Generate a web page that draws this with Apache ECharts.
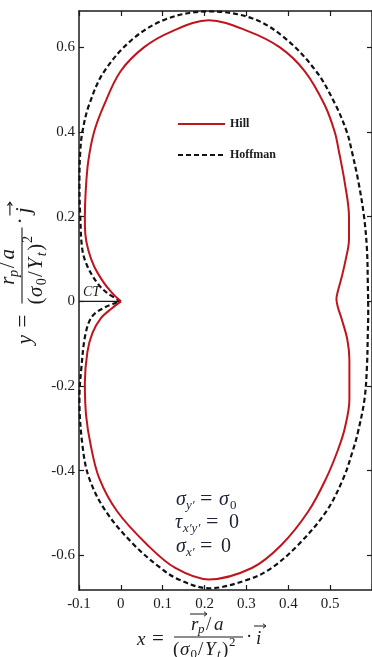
<!DOCTYPE html>
<html>
<head>
<meta charset="utf-8">
<script src="https://cdn.jsdelivr.net/npm/echarts@6/dist/echarts.min.js"></script>
<style>
  html, body { margin: 0; padding: 0; background: #fff; }
  #chart { width: 372px; height: 657px; }
</style>
</head>
<body>
<div id="chart"></div>
<script>
// Plastic zone boundary around the crack tip, normalised coordinates
const hill = [
  [0.000, 0.000], [-0.021, 0.020], [-0.040, 0.043], [-0.064, 0.083], [-0.078, 0.122],
  [-0.085, 0.160], [-0.086, 0.200], [-0.084, 0.260], [-0.078, 0.330], [-0.064, 0.400],
  [-0.040, 0.464], [-0.001, 0.543], [0.055, 0.600], [0.122, 0.638], [0.210, 0.664],
  [0.305, 0.638], [0.380, 0.600], [0.440, 0.543], [0.487, 0.464], [0.511, 0.400],
  [0.521, 0.354], [0.535, 0.280], [0.545, 0.200], [0.545, 0.146], [0.537, 0.098],
  [0.527, 0.055], [0.518, 0.022], [0.515, 0.006], [0.518, -0.012], [0.527, -0.040],
  [0.541, -0.090], [0.546, -0.138], [0.546, -0.232], [0.535, -0.300], [0.519, -0.350],
  [0.491, -0.417], [0.448, -0.496], [0.384, -0.575], [0.313, -0.630], [0.210, -0.657],
  [0.130, -0.630], [0.063, -0.575], [-0.009, -0.496], [-0.052, -0.417], [-0.072, -0.340],
  [-0.083, -0.270], [-0.086, -0.193], [-0.080, -0.120], [-0.068, -0.075], [-0.048, -0.040],
  [-0.022, -0.017], [0.000, 0.000]
];
const hoffman = [
  [0.000, 0.000], [-0.033, 0.020], [-0.056, 0.043], [-0.080, 0.083], [-0.092, 0.122],
  [-0.097, 0.200], [-0.099, 0.280], [-0.097, 0.354], [-0.092, 0.400], [-0.076, 0.464],
  [-0.040, 0.543], [0.031, 0.622], [0.114, 0.669], [0.210, 0.685], [0.313, 0.669],
  [0.392, 0.622], [0.467, 0.543], [0.513, 0.464], [0.540, 0.400], [0.552, 0.354],
  [0.568, 0.280], [0.581, 0.200], [0.588, 0.122], [0.590, 0.043], [0.591, -0.030],
  [0.590, -0.075], [0.588, -0.153], [0.582, -0.232], [0.566, -0.311], [0.555, -0.350],
  [0.532, -0.417], [0.491, -0.496], [0.424, -0.575], [0.360, -0.630], [0.305, -0.657],
  [0.210, -0.678], [0.138, -0.657], [0.095, -0.630], [0.031, -0.575], [-0.036, -0.496],
  [-0.076, -0.417], [-0.092, -0.338], [-0.099, -0.232], [-0.094, -0.153], [-0.084, -0.075],
  [-0.068, -0.035], [-0.036, -0.013], [0.000, 0.000]
];
// crack faces ending at the crack tip (CT)
const crack = [[-0.1, 0], [0, 0]];

const seriesNames = ['Hill', 'Hoffman'];
const xTickValues = [-0.1, 0, 0.1, 0.2, 0.3, 0.4, 0.5, 0.6];
const xLabelValues = [-0.1, 0, 0.1, 0.2, 0.3, 0.4, 0.5];
const yTickValues = [-0.6, -0.4, -0.2, 0, 0.2, 0.4, 0.6];

const X_MIN = -0.1, X_MAX = 0.6, Y_MIN = -0.682, Y_MAX = 0.686;

const serif = "'Liberation Serif', 'DejaVu Serif', serif";
const ink = '#1b1b1b';
const mathInk = '#1e2438';

function fmt(v) { return String(Math.round(v * 10) / 10); }

// one piece of formula text, vertically centred on y
function piece(text, x, y, size, italic, color) {
  return {
    type: 'text', x: x, y: y, silent: true,
    style: {
      text: text,
      font: (italic ? 'italic ' : '') + size + 'px ' + serif,
      fill: color || ink,
      align: 'left', textAlign: 'left',
      verticalAlign: 'middle', textVerticalAlign: 'middle'
    }
  };
}
function vecArrow(x1, x2, y) {
  return [
    { type: 'polyline', silent: true, shape: { points: [[x1, y], [x2, y]] }, style: { stroke: ink, lineWidth: 1, fill: null } },
    { type: 'polyline', silent: true, shape: { points: [[x2 - 3, y - 2.2], [x2, y], [x2 - 3, y + 2.2]] }, style: { stroke: ink, lineWidth: 1, fill: null } }
  ];
}
// axis title: v = (r_p/a) / (sigma0/Yt)^2 · e, laid out around the fraction bar centre
function axisTitle(v, e) {
  const c = [];
  c.push(piece(v, -72, 3, 19, true));
  c.push(piece('=', -57, 2, 21, false));
  c.push({ type: 'line', silent: true, shape: { x1: -35, y1: 0, x2: 34, y2: 0 }, style: { stroke: ink, lineWidth: 1 } });
  // numerator
  c.push(piece('r', -18, -12, 19, true));
  c.push(piece('p', -11, -7, 13, true));
  c.push(piece('/', -3, -12, 19, false));
  c.push(piece('a', 5, -12, 19, true));
  c.push(...vecArrow(-19, -2, -23));
  // denominator
  c.push(piece('(', -36, 13, 19, false));
  c.push(piece('σ', -29, 13, 19, true));
  c.push(piece('0', -18.5, 18, 13, false));
  c.push(piece('/', -11, 13, 19, false));
  c.push(piece('Y', -4, 13, 19, true));
  c.push(piece('t', 8, 18, 13, true));
  c.push(piece(')', 13, 13, 19, false));
  c.push(piece('2', 20, 6, 13, false));
  // unit vector
  c.push(piece('·', 37, 0, 19, false));
  c.push(piece(e, 47, 2, 19, true));
  c.push(...vecArrow(45, 57, -11));
  return c;
}

const graphics = [
  { type: 'group', x: 209, y: 637, children: axisTitle('x', 'i') },
  { type: 'group', x: 22, y: 265, rotation: Math.PI / 2, scaleX: 1.1, scaleY: 1.1, children: axisTitle('y', 'j') },
  piece('CT', 83, 292, 14, true),
  // loading state
  piece('σ', 176, 500, 20, true, mathInk),
  piece('y′', 186, 506, 13, true, mathInk),
  piece('=', 200, 499, 22, false, mathInk),
  piece('σ', 219, 500, 20, true, mathInk),
  piece('0', 230, 506, 13, false, mathInk),
  piece('τ', 175, 523, 20, true, mathInk),
  piece('x′y′', 183, 529, 13, true, mathInk),
  piece('=', 206, 522, 22, false, mathInk),
  piece('0', 229, 523, 20, false, mathInk),
  piece('σ', 176, 547, 20, true, mathInk),
  piece('x′', 186, 553, 13, true, mathInk),
  piece('=', 200, 546, 22, false, mathInk),
  piece('0', 221, 547, 20, false, mathInk)
];

const frameLine = { show: true, onZero: false, lineStyle: { color: ink, width: 1.5 } };
const innerTick = (vals) => ({ show: true, inside: true, length: 5, customValues: vals, lineStyle: { color: ink, width: 1.2 } });

const chart = echarts.init(document.getElementById('chart'), null, { renderer: 'canvas' });
chart.setOption({
  animation: false,
  backgroundColor: '#ffffff',
  grid: { left: 79, top: 11, width: 294, height: 579, containLabel: false },
  legend: {
    data: seriesNames,
    orient: 'vertical',
    left: 177, top: 118, padding: 0,
    itemWidth: 47, itemHeight: 14, itemGap: 19,
    itemStyle: { opacity: 0 },
    textStyle: { fontFamily: serif, fontWeight: 'bold', fontSize: 12, color: ink },
    selectedMode: false
  },
  xAxis: [
    {
      type: 'value', min: X_MIN, max: X_MAX, interval: 0.1, position: 'bottom',
      axisLine: frameLine, splitLine: { show: false },
      axisTick: innerTick(xTickValues),
      axisLabel: { customValues: xLabelValues, margin: 7, formatter: fmt, fontFamily: serif, fontSize: 15, color: ink }
    },
    {
      type: 'value', min: X_MIN, max: X_MAX, interval: 0.1, position: 'top',
      axisLine: frameLine, splitLine: { show: false },
      axisTick: innerTick(xTickValues), axisLabel: { show: false }
    }
  ],
  yAxis: [
    {
      type: 'value', min: Y_MIN, max: Y_MAX, position: 'left',
      axisLine: frameLine, splitLine: { show: false },
      axisTick: innerTick(yTickValues),
      axisLabel: { customValues: yTickValues, margin: 4, formatter: fmt, fontFamily: serif, fontSize: 15, color: ink }
    },
    {
      type: 'value', min: Y_MIN, max: Y_MAX, position: 'right',
      axisLine: frameLine, splitLine: { show: false },
      axisTick: innerTick(yTickValues), axisLabel: { show: false }
    }
  ],
  series: [
    {
      name: 'Hill', type: 'line', data: hill, symbol: 'none', smooth: 0.35, clip: false, z: 4,
      lineStyle: { color: '#c0141c', width: 2 }, itemStyle: { color: '#c0141c' }
    },
    {
      name: 'Hoffman', type: 'line', data: hoffman, symbol: 'none', smooth: 0.35, clip: false, z: 3,
      lineStyle: { color: '#111111', width: 2.2, type: [5, 3] }, itemStyle: { color: '#111111' }
    },
    {
      name: 'crack', type: 'line', data: crack, symbol: 'none', clip: false, z: 2,
      lineStyle: { color: ink, width: 1.2 }
    }
  ],
  graphic: graphics
});
</script>
</body>
</html>
